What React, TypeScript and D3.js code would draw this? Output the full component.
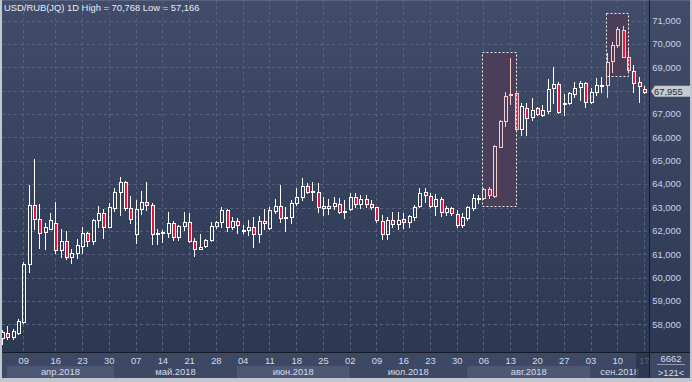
import React from 'react';
import * as d3 from 'd3';

const opens = [
  57.40, 57.61, 57.44, 57.61, 58.11, 60.57, 63.09, 62.49, 61.94, 62.09,
  62.32, 61.18, 61.55, 60.87, 61.04, 61.35, 61.89, 61.55, 62.46, 62.75,
  62.18, 62.99, 63.65, 64.08, 62.99, 61.85, 62.92, 63.24, 63.09, 61.85,
  61.91, 61.89, 62.32, 61.72, 62.19, 62.37, 61.58, 61.21, 61.34, 61.60,
  62.21, 62.37, 62.89, 62.17, 62.43, 62.01, 62.04, 62.15, 61.86, 62.41,
  62.11, 62.86, 63.06, 62.58, 62.58, 63.21, 63.44, 63.92, 63.65, 63.65,
  63.05, 62.97, 63.05, 63.14, 62.81, 62.92, 63.46, 63.14, 63.35, 63.14,
  63.01, 62.42, 61.86, 62.46, 62.29, 62.49, 62.38, 62.61, 63.08, 63.65,
  63.49, 63.08, 63.36, 62.82, 62.97, 62.71, 62.25, 62.54, 62.96, 63.36,
  63.39, 63.78, 63.49, 65.60, 66.70, 67.83, 67.89, 66.35, 67.27, 66.86,
  67.25, 66.97, 67.13, 68.10, 68.28, 67.45, 67.46, 67.85, 68.15, 68.32,
  67.53, 67.93, 68.21, 68.25, 69.27, 69.96, 70.60, 69.43, 68.85, 68.36,
  68.06,
];
const highs = [
  57.75, 57.92, 57.80, 58.22, 60.65, 63.96, 65.06, 63.14, 62.32, 62.75,
  63.24, 62.07, 62.01, 61.24, 61.65, 62.15, 61.95, 62.52, 63.06, 62.94,
  63.18, 63.85, 64.32, 64.15, 63.49, 63.32, 63.71, 64.08, 63.18, 62.07,
  62.04, 62.79, 62.43, 62.25, 62.79, 62.75, 61.71, 61.86, 61.66, 62.38,
  62.43, 63.03, 62.95, 62.61, 62.56, 62.24, 62.45, 62.61, 62.64, 62.95,
  63.01, 63.38, 63.95, 63.01, 63.32, 63.83, 64.26, 64.04, 64.09, 64.04,
  63.44, 63.36, 63.46, 63.39, 63.32, 63.61, 63.61, 63.54, 63.54, 63.32,
  63.03, 62.68, 62.58, 62.82, 62.79, 62.75, 62.68, 63.11, 63.83, 63.82,
  63.61, 63.56, 63.46, 63.06, 63.04, 62.89, 62.75, 63.06, 63.58, 63.54,
  63.82, 63.87, 65.68, 66.75, 67.96, 69.39, 67.92, 67.46, 67.49, 67.70,
  67.32, 67.39, 68.49, 69.03, 68.39, 67.85, 67.96, 68.39, 68.42, 68.39,
  68.10, 68.53, 68.60, 69.60, 70.10, 70.73, 70.77, 69.75, 69.10, 68.57,
  68.20,
];
const lows = [
  57.17, 57.36, 57.37, 57.58, 58.05, 60.22, 62.07, 61.28, 61.21, 62.07,
  61.04, 60.87, 60.79, 60.61, 60.82, 61.06, 61.35, 61.44, 62.15, 61.71,
  62.15, 62.86, 62.69, 62.89, 62.35, 61.49, 62.72, 62.90, 61.42, 61.42,
  61.54, 61.75, 61.61, 61.61, 62.04, 61.54, 60.94, 61.21, 61.30, 61.58,
  62.11, 62.18, 61.99, 62.07, 61.89, 61.89, 61.82, 61.30, 61.54, 62.09,
  62.08, 62.75, 62.39, 61.98, 62.35, 63.11, 63.32, 63.61, 63.32, 62.82,
  62.68, 62.72, 62.92, 62.75, 62.56, 62.89, 63.03, 62.97, 63.03, 62.92,
  62.39, 61.64, 61.64, 62.18, 62.07, 62.11, 62.18, 62.46, 63.04, 63.25,
  63.04, 62.68, 62.64, 62.68, 62.68, 62.18, 62.18, 62.46, 62.89, 63.18,
  63.35, 63.39, 63.46, 65.58, 66.49, 67.42, 66.32, 66.10, 66.10, 66.75,
  66.96, 66.92, 67.03, 67.49, 67.03, 66.96, 67.42, 67.75, 67.60, 67.32,
  67.49, 67.82, 67.93, 67.75, 68.82, 69.87, 69.43, 68.82, 67.96, 67.52,
  67.90,
];
const closes = [
  57.68, 57.45, 57.71, 58.14, 60.58, 63.09, 62.49, 61.89, 62.15, 62.45,
  61.17, 61.55, 60.87, 61.04, 61.38, 61.89, 61.55, 62.46, 62.75, 62.18,
  63.01, 63.65, 64.08, 62.99, 62.49, 62.92, 63.24, 63.11, 61.85, 61.92,
  61.96, 62.32, 61.72, 62.19, 62.37, 61.58, 61.21, 61.32, 61.60, 62.22,
  62.37, 62.89, 62.17, 62.43, 62.25, 62.04, 62.15, 61.86, 62.41, 62.32,
  62.89, 63.06, 62.54, 62.61, 63.21, 63.44, 63.92, 63.65, 63.69, 63.01,
  62.97, 63.05, 63.18, 62.82, 62.84, 63.44, 63.14, 63.35, 63.14, 63.01,
  62.46, 61.86, 62.46, 62.29, 62.46, 62.38, 62.64, 63.04, 63.61, 63.53,
  63.08, 63.36, 62.82, 62.97, 62.75, 62.25, 62.58, 63.01, 63.39, 63.39,
  63.78, 63.52, 65.63, 66.70, 67.78, 67.86, 66.35, 67.35, 66.85, 67.17,
  67.00, 67.17, 68.06, 68.28, 67.08, 67.48, 67.89, 68.10, 68.32, 67.50,
  67.93, 68.25, 68.25, 69.24, 69.96, 70.63, 69.46, 68.89, 68.33, 68.20,
  67.955,
];

const dayTickIndex = [4, 10, 15, 20, 25, 30, 35, 40, 45, 50, 55, 60, 65, 70, 75, 80, 85, 90, 95, 100, 105, 110, 115, 120];
const dayTickLabels = ['09', '16', '23', '30', '07', '14', '21', '28', '04', '11', '18', '25', '02', '09', '16', '23', '30', '06', '13', '20', '27', '03', '10', '17'];
const monthStartIndex = [1, 21, 44, 65, 87, 110, 121];
const monthLabels = ['апр.2018', 'май.2018', 'июн.2018', 'июл.2018', 'авг.2018', 'сен.2018'];
const priceTicks = [58, 59, 60, 61, 62, 63, 64, 65, 66, 67, 68, 69, 70, 71];
const highlightStart = [90, 113];
const highlightEnd = [96, 117];
const highlightTop = [69.65, 71.32];
const highlightBottom = [63.06, 68.65];
const titleText = 'USD/RUB(JQ) 1D High = 70,768 Low = 57,166';
const cornerTop = '6662';
const cornerBottom = '>121<';

const W = 692;
const H = 382;
const PLOT_L = 2;
const PLOT_R = 649;
const PLOT_B = 352;
const AXIS_B = 378;
const FONT = '"Liberation Sans", Arial, sans-serif';
const FS = 9.4;
const RED = '#e3173e';
const PINK = '#f6cccc';

export default function App() {
  const n = closes.length;
  const x = d3.scaleLinear().domain([0, 120]).range([2.3, 644.54]);
  const y = d3.scaleLinear().domain([58, 71]).range([324.3, 20.7]);
  const px = (i: number) => Math.round(x(i) - 0.5) + 0.5;
  const py = (v: number) => Math.round(y(v)) + 0.5;
  const fmt = d3.format(',');
  const inHL = (i: number) => highlightStart.some((s, k) => i >= s && i <= highlightEnd[k]);

  const candles = d3.range(n).map((i) => {
    const o = opens[i], c = closes[i], h = highs[i], l = lows[i];
    const up = c >= o;
    const wx = px(i);
    const top = py(Math.max(o, c));
    let bot = py(Math.min(o, c));
    if (bot - top < 1) bot = top + 1;
    const col = inHL(i) ? PINK : '#ffffff';
    return (
      <g key={i}>
        <line x1={wx} x2={wx} y1={py(h) - 0.5} y2={top} stroke={col} strokeWidth={1} />
        <line x1={wx} x2={wx} y1={bot} y2={py(l) + 0.5} stroke={col} strokeWidth={1} />
        <rect x={wx - 1} y={top} width={3} height={bot - top} fill={up ? 'none' : RED} stroke={col} strokeWidth={1} />
      </g>
    );
  });

  const lastClose = closes[n - 1];
  const tagY = y(lastClose) - 0.5;
  const visibleTicks = priceTicks.filter((v) => Math.abs(y(v) - tagY) > 9);

  return (
    <svg width={W} height={H} style={{ position: 'absolute', left: 0, top: 0, display: 'block' }} fontFamily={FONT}>
      <defs>
        <linearGradient id="bg" x1="0" y1="0" x2="0" y2="1">
          <stop offset="0" stopColor="#404c69" />
          <stop offset="1" stopColor="#2d3853" />
        </linearGradient>
        <clipPath id="plotClip">
          <rect x={PLOT_L} y={0} width={PLOT_R - PLOT_L} height={PLOT_B} />
        </clipPath>
        <clipPath id="axisClip">
          <rect x={PLOT_L} y={PLOT_B} width={PLOT_R - PLOT_L} height={AXIS_B - PLOT_B} />
        </clipPath>
      </defs>
      <rect x={0} y={0} width={W} height={H} fill="#c2c6ce" />
      <rect x={PLOT_L} y={0} width={690 - PLOT_L} height={PLOT_B} fill="url(#bg)" />
      <rect x={PLOT_L} y={PLOT_B} width={690 - PLOT_L} height={AXIS_B - PLOT_B} fill="#3c4864" />
      <line x1={PLOT_L} x2={690} y1={0.5} y2={0.5} stroke="#58647e" />

      {/* month bands and day labels */}
      <g clipPath="url(#axisClip)">
        {monthLabels.map((m, k) => {
          const x0 = x(monthStartIndex[k]) - 0.8;
          const x1 = x(monthStartIndex[k + 1]) - 0.8;
          return (
            <g key={m}>
              {k % 2 === 0 && <rect x={x0} y={366} width={x1 - x0} height={AXIS_B - 366} fill="#4c5874" />}
              <text x={(x0 + Math.min(x1, PLOT_R)) / 2} y={375.3} fontSize={FS} fill="#d4dcec" textAnchor="middle">{m}</text>
            </g>
          );
        })}
        {dayTickIndex.map((idx, k) => (
          <text key={k} x={x(idx)} y={364.3} fontSize={FS} fill="#d4dcec" textAnchor="middle">{dayTickLabels[k]}</text>
        ))}
        <rect x={x(n - 1) - 8.5} y={PLOT_B} width={PLOT_R - (x(n - 1) - 8.5)} height={AXIS_B - PLOT_B} fill="#28324a" opacity={0.72} />
      </g>

      {/* plot */}
      <g clipPath="url(#plotClip)">
        {priceTicks.map((v) => (
          <line key={v} x1={PLOT_L} x2={PLOT_R} y1={py(v)} y2={py(v)} stroke="#56637f" strokeDasharray="3,3" />
        ))}
        {dayTickIndex.map((idx) => (
          <line key={idx} x1={px(idx)} x2={px(idx)} y1={0} y2={PLOT_B} stroke="#56637f" strokeDasharray="3,3" />
        ))}
        {highlightStart.map((s, k) => (
          <rect key={k} x={px(s) - 1} y={py(highlightTop[k])} width={px(highlightEnd[k]) - px(s) + 1} height={py(highlightBottom[k]) - py(highlightTop[k])} fill="#4a3e58" />
        ))}
        {candles}
        {highlightStart.map((s, k) => (
          <rect key={k} x={px(s) - 1} y={py(highlightTop[k])} width={px(highlightEnd[k]) - px(s) + 1} height={py(highlightBottom[k]) - py(highlightTop[k])} fill="none" stroke="#ececf2" strokeDasharray="2,2" />
        ))}
        <text x={4} y={11} fontSize={FS} fill="#e8ecf4">{titleText}</text>
      </g>

      {/* separators */}
      <line x1={PLOT_L} x2={690} y1={PLOT_B + 0.5} y2={PLOT_B + 0.5} stroke="#141a27" />
      <line x1={PLOT_R + 0.5} x2={PLOT_R + 0.5} y1={0} y2={AXIS_B} stroke="#141a27" />

      {/* right axis */}
      {visibleTicks.map((v) => (
        <text key={v} x={652.3} y={y(v) + 3.3} fontSize={FS} fill="#c8d5ec">{fmt(v * 1000)}</text>
      ))}
      <polygon
        points={`651,${tagY} 655,${tagY - 5.5} 690,${tagY - 5.5} 690,${tagY + 5.5} 655,${tagY + 5.5}`}
        fill="#c6cad2"
      />
      <text x={654} y={tagY + 3.3} fontSize={FS} fill="#1c2840">{fmt(Math.round(lastClose * 1000))}</text>

      {/* corner */}
      <text x={671} y={361.7} fontSize={FS} fill="#d4dcec" textAnchor="middle">{cornerTop}</text>
      <line x1={657} x2={685} y1={364.5} y2={364.5} stroke="#8e9ab0" />
      <text x={671} y={376} fontSize={FS} fill="#d4dcec" textAnchor="middle">{cornerBottom}</text>
    </svg>
  );
}
